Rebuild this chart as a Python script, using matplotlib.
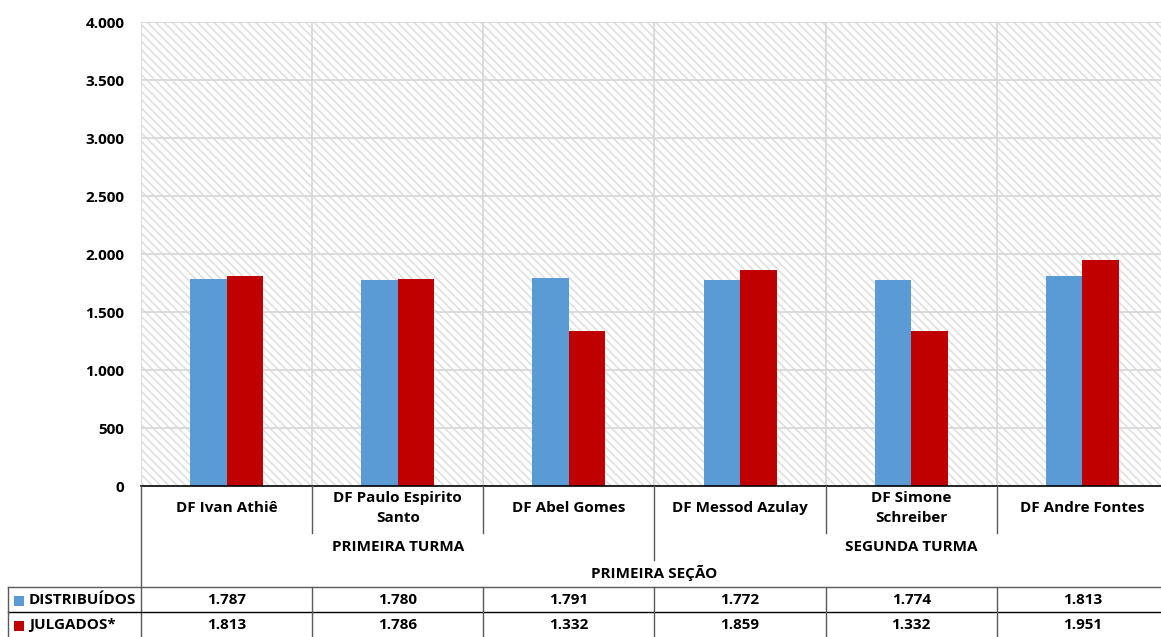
import matplotlib
matplotlib.use("Agg")
import matplotlib.pyplot as plt
from matplotlib.patches import Rectangle
from matplotlib.lines import Line2D
from matplotlib.transforms import blended_transform_factory

# ---- data ----
categories = ["DF Ivan Athiê", "DF Paulo Espirito\nSanto", "DF Abel Gomes",
              "DF Messod Azulay", "DF Simone\nSchreiber", "DF Andre Fontes"]
turmas = ["PRIMEIRA TURMA", "SEGUNDA TURMA"]
turma_sizes = [3, 3]
secao = "PRIMEIRA SEÇÃO"
series_names = ["DISTRIBUÍDOS", "JULGADOS*"]
distribuidos = [1787, 1780, 1791, 1772, 1774, 1813]
julgados = [1813, 1786, 1332, 1859, 1332, 1951]
y_ticks = [0, 500, 1000, 1500, 2000, 2500, 3000, 3500, 4000]

BLUE = "#5B9BD5"
RED = "#C00000"
GRID = "#d9d9d9"
LINE = "#595959"

plt.rcParams["font.family"] = ["Open Sans", "DejaVu Sans"]
plt.rcParams["hatch.linewidth"] = 1.2

W, H = 1161, 637
fig = plt.figure(figsize=(W / 100, H / 100), dpi=100)
fig.patch.set_facecolor("white")

left_px, right_px, top_px, bottom_px = 141, 1168, 22, 486
ax = fig.add_axes([left_px / W, 1 - bottom_px / H,
                   (right_px - left_px) / W, (bottom_px - top_px) / H])

n = len(categories)
ax.set_xlim(-0.5, n - 0.5)
ax.set_ylim(0, 4000)

# hatched plot background
ax.add_patch(Rectangle((0, 0), 1, 1, transform=ax.transAxes, facecolor="white",
                       edgecolor="#e0e0e0", hatch="\\\\\\\\", lw=0, zorder=0))
ax.set_facecolor("white")

# gridlines
for t in y_ticks[1:]:
    ax.axhline(t, color=GRID, lw=1.3, zorder=1)
for b in range(n + 1):
    ax.axvline(b - 0.5, color=GRID, lw=1.3, zorder=1)

# bars
bw = 0.213
xs = list(range(n))
ax.bar([x - bw / 2 for x in xs], distribuidos, width=bw, color=BLUE, zorder=3)
ax.bar([x + bw / 2 for x in xs], julgados, width=bw, color=RED, zorder=3)

for s in ["top", "right", "left"]:
    ax.spines[s].set_visible(False)
ax.spines["bottom"].set_color("black")
ax.spines["bottom"].set_linewidth(1.2)
ax.spines["bottom"].set_zorder(4)

ax.set_yticks(y_ticks)
ax.set_yticklabels([f"{t:,}".replace(",", ".") for t in y_ticks],
                   fontsize=11, fontweight="bold")
ax.tick_params(axis="y", length=0, pad=12)
ax.set_xticks([])

# ---- category axis and data table ----
def fy(ypx):
    return 1 - ypx / H

tr = blended_transform_factory(ax.transData, fig.transFigure)
tr_fig = fig.transFigure


def hline(x0, x1, ypx, transform, color=LINE, lw=1.0):
    fig.add_artist(Line2D([x0, x1], [fy(ypx), fy(ypx)], transform=transform,
                          color=color, lw=lw))


def vline(x, y0px, y1px, transform, color=LINE, lw=1.0):
    fig.add_artist(Line2D([x, x], [fy(y0px), fy(y1px)], transform=transform,
                          color=color, lw=lw))


txt = dict(fontsize=11, fontweight="bold", ha="center", va="center",
           color="black", linespacing=1.2)

# category labels
for i, c in enumerate(categories):
    fig.text(i, fy(508), c, transform=tr, **{**txt, "linespacing": 1.5})

# separators between categories and turma groups
vline(-0.5, 486, 637, tr)
vline(n - 0.5, 486, 637, tr)
start = 0
for k, (name, size) in enumerate(zip(turmas, turma_sizes)):
    center = start + (size - 1) / 2
    fig.text(center, fy(547), name, transform=tr, **txt)
    for j in range(1, size):
        vline(start + j - 0.5, 486, 533, tr)
    start += size
    if k < len(turmas) - 1:
        vline(start - 0.5, 486, 560, tr)

fig.text((n - 1) / 2, fy(573), secao, transform=tr, **txt)

# table grid
hline(8 / W, 1, 587, tr_fig)
hline(8 / W, 1, 612, tr_fig, color="black")
vline(8 / W, 587, 637, tr_fig)
for b in range(1, n):
    vline(b - 0.5, 587, 637, tr)

# table rows
rows = [(series_names[0], distribuidos, BLUE, 600),
        (series_names[1], julgados, RED, 625)]
for name, vals, col, ypx in rows:
    fig.add_artist(Rectangle((14 / W, fy(ypx + 5.5)), 10 / W, 10 / H,
                             transform=tr_fig, facecolor=col, lw=0))
    fig.text(29 / W, fy(ypx), name, transform=tr_fig, fontsize=11,
             fontweight="bold", ha="left", va="center")
    for i, v in enumerate(vals):
        fig.text(i, fy(ypx), f"{v:,}".replace(",", "."), transform=tr, **txt)

fig.savefig("out.png", dpi=100, facecolor="white")
